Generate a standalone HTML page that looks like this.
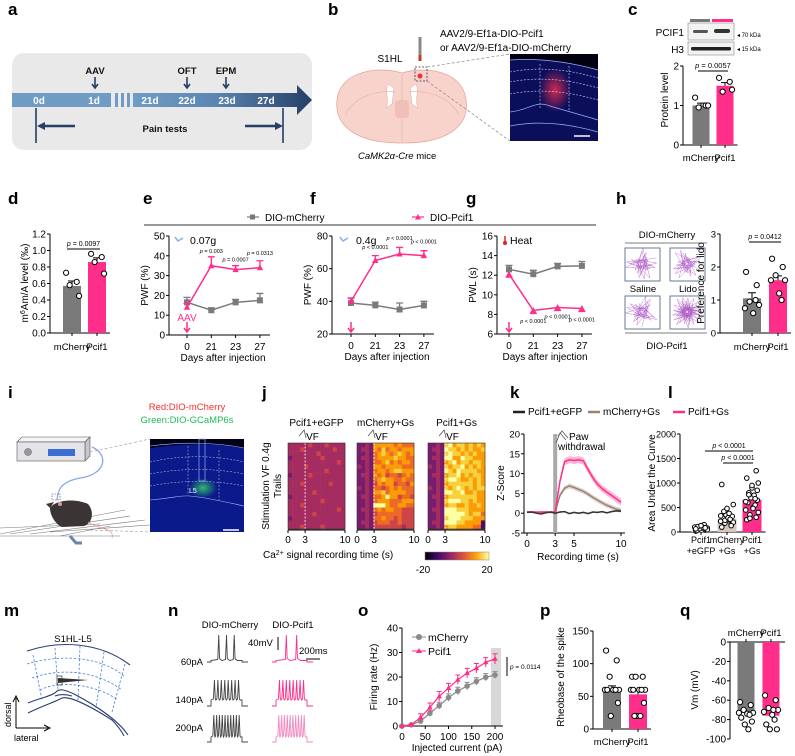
<!DOCTYPE html>
<html><head><meta charset="utf-8"><style>
html,body{margin:0;padding:0;background:#fff}
svg{display:block;font-family:"Liberation Sans",Arial,sans-serif}
</style></head><body>
<svg id="fig" width="795" height="756" viewBox="0 0 795 756" xmlns="http://www.w3.org/2000/svg">
<defs>
<linearGradient id="tl" x1="0" x2="1" y1="0" y2="0"><stop offset="0" stop-color="#6f9cc4"/><stop offset="0.45" stop-color="#5d87b3"/><stop offset="1" stop-color="#253f66"/></linearGradient>
<linearGradient id="infg" x1="0" x2="1"><stop offset="0" stop-color="#000004"/><stop offset="0.2" stop-color="#420a68"/><stop offset="0.4" stop-color="#932667"/><stop offset="0.6" stop-color="#dd513a"/><stop offset="0.8" stop-color="#fca50a"/><stop offset="1" stop-color="#fcffa4"/></linearGradient>
<radialGradient id="redglow"><stop offset="0" stop-color="#ff3050" stop-opacity="0.8"/><stop offset="1" stop-color="#ff3050" stop-opacity="0"/></radialGradient>
<radialGradient id="greenglow"><stop offset="0" stop-color="#40ff60" stop-opacity="0.7"/><stop offset="1" stop-color="#40ff60" stop-opacity="0"/></radialGradient>
</defs>

<g font-weight="bold" font-size="17" fill="#000">
<text x="8" y="15">a</text>
<text x="328" y="15">b</text>
<text x="628" y="15">c</text>
<text x="8" y="204">d</text>
<text x="143" y="204">e</text>
<text x="310" y="204">f</text>
<text x="466" y="204">g</text>
<text x="616" y="204">h</text>
<text x="8" y="398">i</text>
<text x="262" y="398">j</text>
<text x="510" y="398">k</text>
<text x="668" y="398">l</text>
<text x="4" y="616">m</text>
<text x="168" y="616">n</text>
<text x="358" y="616">o</text>
<text x="540" y="616">p</text>
<text x="680" y="616">q</text>
</g>

<g>
<rect x="12" y="53" width="300" height="97" rx="12" fill="#e9e9ea"/>
<rect x="12" y="93" width="99" height="14" fill="#6f9cc4"/>
<rect x="115" y="93" width="3" height="14" fill="#6f9cc4"/>
<rect x="121" y="93" width="3" height="14" fill="#6f9cc4"/>
<rect x="127" y="93" width="3" height="14" fill="#6f9cc4"/>
<path d="M133,93 H297 V85 L312,100 L297,115 V107 H133 Z" fill="url(#tl)"/>
<g fill="#fff" font-weight="bold" font-size="10" text-anchor="middle">
<text x="39" y="104">0d</text>
<text x="94" y="104">1d</text>
<text x="150" y="104">21d</text>
<text x="187" y="104">22d</text>
<text x="227" y="104">23d</text>
<text x="266" y="104">27d</text>
</g>
<g font-weight="bold" font-size="9.5" text-anchor="middle" fill="#111">
<text x="95" y="74">AAV</text>
<text x="187" y="74">OFT</text>
<text x="226" y="74">EPM</text>
<text x="165" y="132">Pain tests</text>
</g>
<g stroke="#253f66" stroke-width="1.6" fill="none">
<path d="M95,77 V88 M92,84 L95,88 L98,84"/><path d="M187,77 V88 M184,84 L187,88 L190,84"/><path d="M226,77 V88 M223,84 L226,88 L229,84"/>
<path d="M36,108 V143"/><path d="M283,108 V143"/>
</g>
<path d="M75,126 H44" stroke="#253f66" stroke-width="2.5"/><path d="M37,126 L45,122 L45,130 Z" fill="#253f66"/>
<path d="M245,126 H276" stroke="#253f66" stroke-width="2.5"/><path d="M283,126 L275,122 L275,130 Z" fill="#253f66"/>
</g>

<g>
<path d="M402,73 C380,66 340,70 337,100 C334,128 360,143 400,143 L404,143 C444,143 470,128 466,100 C463,70 424,66 402,73 Z" fill="#f7d3cc" stroke="#e3aaa2" stroke-width="0.8"/>
<path d="M388,84 C384,92 390,98 386,108 L392,104 L394,88 Z M416,84 C420,92 414,98 418,108 L412,104 L410,88 Z" fill="#fff" stroke="#e3aaa2" stroke-width="0.5"/>
<path d="M345,115 C355,95 380,90 395,92 M459,115 C449,95 424,90 409,92 M402,74 V143" fill="none" stroke="#e8b8b0" stroke-width="0.7"/>
<rect x="395" y="100" width="14" height="18" rx="4" fill="#f0c0b8"/>
<rect x="418.5" y="37" width="3" height="20" fill="#888"/>
<rect x="418.5" y="55" width="3" height="6" fill="#c0392b"/>
<rect x="415" y="67" width="12" height="14" fill="none" stroke="#334" stroke-dasharray="2,1.5" stroke-width="0.8"/>
<circle cx="420" cy="76" r="2.5" fill="#e33"/>
<path d="M427,67 L510,54 M427,81 L510,141" stroke="#888" stroke-dasharray="3,2" stroke-width="0.7"/>
<text x="390" y="62" font-size="10" text-anchor="middle">S1HL</text>
<text x="440" y="37" font-size="10">AAV2/9-Ef1a-DIO-Pcif1</text>
<text x="440" y="51" font-size="10">or AAV2/9-Ef1a-DIO-mCherry</text>
<text x="358" y="159" font-size="9.5"><tspan font-style="italic">CaMK2α-Cre</tspan> mice</text>
<g>
<rect x="510" y="54" width="88" height="87" fill="#0b0f5a"/>
<path d="M510,54 L598,54 L598,70 C570,62 540,58 510,60 Z" fill="#000010"/>
<ellipse cx="555" cy="90" rx="16" ry="22" fill="url(#redglow)"/>
<g fill="none" stroke="#d0d0ff" stroke-width="0.6" stroke-dasharray="2,1.5">
<path d="M510,72 C540,66 570,70 598,78"/><path d="M510,82 C540,76 570,80 598,88"/><path d="M510,94 C540,88 570,92 598,100"/><path d="M540,64 V108"/><path d="M569,66 V110"/>
</g>
<path d="M510,112 C530,110 535,100 550,106 C570,112 585,116 598,120 M510,126 C540,120 570,124 598,132 M510,60 C540,58 570,62 598,70" fill="none" stroke="#9ab0ff" stroke-width="0.7"/>
<path d="M574,136 H590" stroke="#fff" stroke-width="1.5"/>
</g>
</g>

<g>
<rect x="690" y="19" width="20" height="3" fill="#777"/>
<rect x="712" y="19" width="21" height="3" fill="#ff2e8a"/>
<rect x="688" y="23" width="46" height="17" fill="#f3f3f3" stroke="#888" stroke-width="0.6"/>
<rect x="693" y="30" width="15" height="3" rx="1.5" fill="#555"/><rect x="714" y="29" width="16" height="4" rx="2" fill="#333"/>
<rect x="688" y="42" width="46" height="13" fill="#f3f3f3" stroke="#888" stroke-width="0.6"/>
<rect x="691" y="47" width="40" height="3.5" rx="1.5" fill="#222"/>
<text x="684" y="36" font-size="10" text-anchor="end">PCIF1</text>
<text x="684" y="53" font-size="10" text-anchor="end">H3</text>
<text x="737" y="37" font-size="6">◂  70 kDa</text>
<text x="737" y="51" font-size="6">◂  15 kDa</text>
</g>

<g>
<path d="M144,225 H596" stroke="#999" stroke-width="2"/>
<path d="M247,217 H259" stroke="#777" stroke-width="1.2"/><rect x="250" y="214.5" width="5" height="5" fill="#777"/>
<text x="265" y="221" font-size="10">DIO-mCherry</text>
<path d="M412,217 H424" stroke="#ff2e8a" stroke-width="1.2"/><path d="M418,214 L421,219.5 L415,219.5 Z" fill="#ff2e8a"/>
<text x="430" y="221" font-size="10">DIO-Pcif1</text>
</g>

<g>
<text x="667" y="238" font-size="9.5" text-anchor="middle">DIO-mCherry</text>
<path d="M625,243 H707 M625,333 H707" stroke="#555" stroke-width="0.8"/>
<text x="643" y="292" font-size="9.5" text-anchor="middle">Saline</text>
<text x="688" y="292" font-size="9.5" text-anchor="middle">Lido</text>
<text x="667" y="349" font-size="9.5" text-anchor="middle">DIO-Pcif1</text>
<g id="mazes"></g>
</g>

<g>
<text x="187" y="410" font-size="9.5" fill="#ff2a2a" text-anchor="middle">Red:DIO-mCherry</text>
<text x="187" y="423" font-size="9.5" fill="#22bb55" text-anchor="middle">Green:DIO-GCaMP6s</text>
<path d="M17,442 L22,437 L90,437 L85,442 Z" fill="#f4f4f6" stroke="#555" stroke-width="0.6"/>
<path d="M85,442 L90,437 V456 L85,461 Z" fill="#c8c8cc" stroke="#555" stroke-width="0.6"/>
<rect x="17" y="442" width="68" height="19" fill="#e4e4e8" stroke="#555" stroke-width="0.6"/>
<rect x="48" y="449" width="27" height="7" fill="#3b6fcf"/>
<circle cx="28" cy="452" r="3.5" fill="#999" stroke="#555" stroke-width="0.5"/>
<path d="M92,447 C110,455 105,475 80,478 C60,482 58,490 57,500" fill="none" stroke="#89a8e8" stroke-width="1.3"/>
<g stroke="#777" stroke-width="0.6"><path d="M0,534 L125,510 M10,534 L130,516 M30,534 L145,520 M50,532 L150,525 M0,528 L100,524 M60,536 L110,526 M0,536 L120,536"/></g>
<path d="M50,508 C55,500 75,498 88,504 C95,512 92,524 84,526 L62,527 C55,524 50,515 50,508 Z" fill="#3a3434"/>
<path d="M50,508 L46,504 L54,502 Z" fill="#3a3434"/><circle cx="60" cy="504" r="2" fill="#d99"/>
<path d="M88,522 C100,530 115,528 112,538" fill="none" stroke="#e99" stroke-width="0.8"/>
<rect x="52" y="494" width="8" height="6" fill="none" stroke="#446" stroke-dasharray="1.5,1" stroke-width="0.6"/>
<path d="M70,536 L76,543 L82,543" stroke="#6688aa" stroke-width="3" fill="none"/>
<path d="M90,452 L150,439 M90,530 L150,532" stroke="#999" stroke-dasharray="3,2" stroke-width="0.6"/>
<g>
<rect x="150" y="439" width="94" height="93" fill="#0a1a8a"/>
<path d="M150,439 H244 V448 C210,442 180,444 150,448 Z" fill="#000018"/>
<ellipse cx="203" cy="488" rx="14" ry="10" fill="url(#greenglow)"/>
<g fill="none" stroke="#ccd" stroke-width="0.5" stroke-dasharray="2,1.5"><path d="M150,462 C180,455 215,455 244,462"/><path d="M150,474 C180,468 215,468 244,474"/><path d="M150,486 C180,480 215,480 244,486"/><path d="M188,446 V495"/><path d="M219,450 V500"/></g>
<path d="M150,500 C175,498 180,495 190,496 C210,498 230,503 244,506 M150,446 C180,442 215,442 244,448" fill="none" stroke="#b0b8ff" stroke-width="0.6"/>
<rect x="199" y="439" width="6" height="42" fill="none" stroke="#8ab0ff" stroke-width="0.7"/>
<text x="189" y="493" font-size="7" fill="#fff">L5</text>
<path d="M223,530 H239" stroke="#fff" stroke-width="1.5"/>
</g>
</g>

<g>
<text x="73" y="642" font-size="9.5" text-anchor="middle">S1HL-L5</text>
<g fill="none" stroke="#2d3e70" stroke-width="1.1">
<path d="M27,651 C60,640 100,642 130,665"/>
<path d="M28,703 C40,698 52,696 56,692 C60,688 65,690 74,694 C95,705 118,720 128,735"/>
<path d="M28,713 C42,706 55,702 62,698 C70,696 90,706 112,720 C118,726 122,732 124,736"/>
<path d="M55,696 C60,694 65,694 72,696"/>
</g>
<g fill="none" stroke="#4a7fd6" stroke-width="0.8" stroke-dasharray="2.5,1.8">
<path d="M27,664 C60,654 100,656 124,676"/><path d="M32,678 C60,668 95,670 122,690"/><path d="M40,690 C60,680 95,684 118,700"/>
<path d="M33,655 L42,700"/><path d="M55,648 L58,690"/><path d="M80,646 L78,700"/><path d="M104,652 L96,708"/><path d="M125,664 L112,712"/>
</g>
<path d="M58,678 L88,680 L58,683 Z" fill="#333"/><rect x="57" y="676" width="5" height="9" fill="none" stroke="#333" stroke-width="0.7"/>
<path d="M16,728 V698 M13,702 L16,696 L19,702 M16,728 H48 M44,725 L50,728 L44,731" fill="none" stroke="#000" stroke-width="1"/>
<text transform="translate(11,727) rotate(-90)" font-size="9">dorsal</text>
<text x="14" y="741" font-size="9">lateral</text>
</g>

<g font-size="9.5">
<text x="230" y="628" text-anchor="middle">DIO-mCherry</text>
<text x="293" y="628" text-anchor="middle">DIO-Pcif1</text>
<text x="203" y="665" text-anchor="end">60pA</text>
<text x="203" y="703" text-anchor="end">140pA</text>
<text x="203" y="731" text-anchor="end">200pA</text>
<text x="248" y="646">40mV</text>
<path d="M278,637 V650" stroke="#000" stroke-width="1"/>
<text x="299" y="654">200ms</text>
<path d="M306,659 H320" stroke="#000" stroke-width="1"/>
<g id="traces"></g>
</g>

<g id="charts"></g>
</svg>
<script>
// ---------- data ----------
const cCats=['mCherry','Pcif1'];
const cVals=[1.0,1.5];
const cErr=[0.06,0.08];
const cPts=[[1.2,1.0,0.95,1.0],[1.7,1.6,1.35,1.4]];
const dVals=[0.57,0.86];
const dErr=[0.06,0.05];
const dPts=[[0.73,0.62,0.58,0.45],[0.96,0.92,0.86,0.72]];
const hVals=[1.05,1.6];
const hErr=[0.17,0.13];
const hPts=[[1.85,1.45,0.95,0.85,0.75,0.6,1.0],[2.25,2.0,1.75,1.6,1.6,1.2,1.0]];
const days=['0','21','23','27'];
const eMch=[16.5,12.5,16.5,17.5], eMchErr=[2.5,1.2,1.5,3.5];
const ePc=[14,35,33,34], ePcErr=[2,4.5,2,3.5];
const fMch=[39,37.5,35,37.5], fMchErr=[3,2,4,2.5];
const fPc=[40,65,69,68], fPcErr=[2,3,4,3];
const gMch=[12.6,12.1,12.9,12.95], gMchErr=[0.4,0.4,0.3,0.45];
const gPc=[12.1,8.4,8.7,8.6], gPcErr=[0.3,0.3,0.3,0.3];
const heat1=["44444544454444","44454444444544","44444445444444","34444444544444","44444444444454","44445444444444","44444444454444","34444544444444","44444444444444","44454444445444","44444444444444","44444454444444","34444444444444","44444444544444","44454444444444","44444444444454","44444454444444","34444444444444","44444444444444","44454444544444"];
const heat2=["33437777767666","34437686776777","33436787678767","34436777787766","33436678676776","43437767777666","33436776788777","34437675665676","33436787766766","33435767756657","43436656767666","33437786777766","34436679775665","33436777666777","33439997667766","34436767766555","33435666666555","33436676656555","34435666556555","33435555555455"];
const heat3=["33438978878787","34439887878778","33438988787877","34439977988777","33437897887887","43438788978787","33439879888877","34437889787887","33438998778787","33437888888787","43438789878788","33439988977877","34437888888877","33438999887877","33437887787787","34439998887777","33439999987886","33438999888777","34439998877772","33437887777662"];
const kTime=[0,0.5,1,1.5,2,2.5,3,3.5,4,4.5,5,5.5,6,6.5,7,7.5,8,8.5,9,9.5,10];
const kPc=[0.3,0.3,0.2,0.3,0.3,0.2,0.3,8,13,13.5,13.3,13.5,13.2,11,9,7.3,6.2,5.3,4.5,3.6,2.8];
const kMch=[0.3,0.3,0.3,0.2,0.3,0.3,0.3,4.5,6.3,6.9,6.5,6,5.5,4.8,4,3.3,2.6,2,1.5,1,0.7];
const kGfp=[0.2,0.3,0,-0.2,0.1,0.3,0,0.3,0.4,-0.1,0.2,0,0.2,-0.1,0.3,0.2,0.4,0.1,0.4,0.6,0.5];
const lCats=['Pcif1\n+eGFP','mCherry\n+Gs','Pcif1\n+Gs'];
const lVals=[60,270,660];
const lErr=[10,40,60];
const lPts=[[20,40,60,80,100,120,150,30,50,70,90,110,130,45,65,85],[100,150,180,200,220,250,270,300,320,350,380,420,480,560,970,130,240,290,330,260],[250,300,350,400,450,500,550,600,650,700,750,800,900,1000,1100,1250,280,480,620,680,760,850,950]];
const oCur=[0,20,40,60,80,100,120,140,160,180,200];
const oMch=[0,0.5,2,5.2,8.3,11.6,14.3,16.3,18.2,19.9,20.8];
const oPc=[0,0.5,3.5,7.6,12.1,15.5,18.9,21.6,23.6,26,27.4];
const oMchErr=[0,0.3,1,1.2,1.4,1.5,1.5,1.5,1.5,1.5,1.4];
const oPcErr=[0,0.3,1.5,1.8,2,1.9,1.9,1.9,1.9,1.9,2.1];
const pVals=[60,53];
const pErr=[6,6];
const pPts=[[120,105,80,60,60,60,60,60,40,20],[80,80,80,60,60,60,60,60,40,20,20,20]];
const qVals=[-73,-76];
const qPts=[[-62,-65,-70,-73,-73,-74,-75,-78,-82,-85,-90],[-55,-60,-68,-70,-72,-75,-80,-85,-90,-90,-70]];

// ---------- helpers ----------
const NS='http://www.w3.org/2000/svg';
const root=document.getElementById('charts');
function E(tag,attrs,parent){const e=document.createElementNS(NS,tag);for(const k in attrs)e.setAttribute(k,attrs[k]);(parent||root).appendChild(e);return e;}
function N(e,name,inter){


return e;}
function T(x,y,s,size,anchor,parent,extra){const t=E('text',Object.assign({x:x,y:y,'font-size':size,'text-anchor':anchor||'start'},extra||{}),parent);t.textContent=s;return t;}
function lin(d0,d1,r0,r1){return v=>r0+(v-d0)*(r1-r0)/(d1-d0);}
const PINK='#ff2e8a',GREY='#7a7a7a';
const jit=[-5,4,-2,6,-6,1,3,-4,5,-1,2,-3,0,6,-5,4,-2,1,-6,3,-3,5,0];

function yAxis(g,x,sc,ticks,size,name){
  const a=E('g',{},g);
  N(a,name,false);
  E('path',{d:`M${x},${sc(ticks[0])} V${sc(ticks[ticks.length-1])}`,stroke:'#000','stroke-width':1},a);
  ticks.forEach(t=>{E('path',{d:`M${x-3},${sc(t)} H${x}`,stroke:'#000','stroke-width':1},a);
    T(x-4,sc(t)+3.5,String(t),size,'end',a);});
  return a;
}
function rotTitle(g,x,y,s,size,name){const t=T(0,0,s,size,'middle',g,{transform:`translate(${x},${y}) rotate(-90)`});
N(t,name,false);return t;}
function dots(g,cx,sc,pts,r){pts.forEach((v,i)=>{const c=E('circle',{cx:cx+jit[i%jit.length]*r/2.2,cy:sc(v),r:r,fill:'#fff',stroke:'#000','stroke-width':1},g);
N(c,'data-point',false);});}
function barChart(o){
  const g=E('g',{});N(g,o.name,false);
  yAxis(g,o.ax,o.sc,o.ticks,o.fs||10,o.name+'-y-axis');
  const y0=o.sc(0);
  E('path',{d:`M${o.ax},${y0} H${o.centers[o.centers.length-1]+o.w/2+4}`,stroke:'#000','stroke-width':1},g);
  o.vals.forEach((v,i)=>{const cx=o.centers[i];
    const b=E('rect',{x:cx-o.w/2,y:Math.min(o.sc(v),y0),width:o.w,height:Math.abs(y0-o.sc(v)),fill:o.colors[i]},g);
    N(b,'bar-'+o.cats[i].replace(/\W+/g,'-').toLowerCase(),false);
    if(o.err){const e=o.err[i];E('path',{d:`M${cx},${o.sc(v)} V${o.sc(v+e)} M${cx-4},${o.sc(v+e)} H${cx+4}`,stroke:'#000','stroke-width':1},g);}
    E('path',{d:`M${cx},${y0} V${y0+3}`,stroke:'#000'},g);
    const lines=o.cats[i].split('\n');lines.forEach((s,j)=>{const t=T(cx,o.labY+j*11,s,o.lfs||9.5,'middle',g);
    N(t,'x-label',false);});
    dots(g,cx,o.sc,o.pts[i],o.r||2.6);
  });
  return g;
}
function pAnn(g,x1,x2,y,txt,fs){E('path',{d:`M${x1},${y} H${x2}`,stroke:'#000','stroke-width':1},g);
  const t=T((x1+x2)/2,y-3,'',fs||7,'middle',g);const a=E('tspan',{'font-style':'italic'},t);a.textContent='p';const b=E('tspan',{},t);b.textContent=txt;
  N(t,'p-value',false);}

// ---------- c ----------
{const sc=lin(0,2,145,66);
const g=barChart({name:'protein-level-chart',ax:683,sc:sc,ticks:[0,1,2],centers:[701,725],w:17,vals:cVals,err:cErr,pts:cPts,colors:[GREY,PINK],cats:cCats,labY:161,fs:10});
pAnn(g,698,728,71,' = 0.0057',7.5);rotTitle(g,668,100,'Protein level',10,'protein-level-title');}
// ---------- d ----------
{const sc=lin(0,1.2,333,234);
const g=barChart({name:'m6am-chart',ax:50,sc:sc,ticks:[0,0.2,0.4,0.6,0.8,1.0,1.2],centers:[72,97],w:18,vals:dVals,err:dErr,pts:dPts,colors:[GREY,PINK],cats:cCats,labY:350});
g.querySelectorAll('text[text-anchor="end"]').forEach(t=>{t.textContent=Number(t.textContent).toFixed(1);});
pAnn(g,67,100,249,' = 0.0097',7);
const t=T(0,0,'',10,'middle',g,{transform:'translate(28,283) rotate(-90)'});t.innerHTML='m<tspan baseline-shift="super" font-size="7">6</tspan>Am/A level (‰)';
N(t,'m6am-y-title',false);}
// ---------- h ----------
{const sc=lin(0,3,333,234);
const g=barChart({name:'preference-chart',ax:720,sc:sc,ticks:[0,1,2,3],centers:[752,778],w:18,vals:hVals,err:hErr,pts:hPts,colors:[GREY,PINK],cats:cCats,labY:350,fs:9.5});
pAnn(g,749,781,242,' = 0.0412',7);rotTitle(g,704,283,'Preference for lido',10,'preference-y-title');
const mz=document.getElementById('mazes');
[[625,248],[670,248],[625,296],[670,296]].forEach((p,i)=>{const r=E('rect',{x:p[0],y:p[1],width:35,height:33,fill:'#fff',stroke:'#6a7a9a','stroke-width':1},mz);
N(r,'maze-box',false);
let d='M'+(p[0]+17)+','+(p[1]+16);for(let k=0;k<(i==3?70:35);k++){const a=(k*2.39+i)%6.283, rr=((k*37)%15)+2;d+=' L'+(p[0]+17+Math.cos(a)*rr*1.05).toFixed(1)+','+(p[1]+16+Math.sin(a)*rr).toFixed(1);}
E('path',{d:d,fill:'none',stroke:'#b060c8','stroke-width':0.5,opacity:0.8},mz);});}

// ---------- e f g ----------
function lineChart(o){
  const g=E('g',{});N(g,o.name,false);
  yAxis(g,o.ax,o.sc,o.ticks,10,o.name+'-y-axis');
  const xp=i=>o.x0+i*o.step;
  const yb=o.sc(o.ticks[0]);
  E('path',{d:`M${o.ax},${yb} H${xp(3)+10}`,stroke:'#000'},g);
  days.forEach((d,i)=>{E('path',{d:`M${xp(i)},${yb} V${yb+3}`,stroke:'#000'},g);const t=T(xp(i),yb+15,d,10,'middle',g);
  N(t,'x-tick-label',false);});
  const tt=T(o.x0+36,yb+26,'Days after injection',10,'middle',g);
  N(tt,'x-axis-title',false);
  [[o.mch,o.mchE,GREY,'mcherry'],[o.pc,o.pcE,PINK,'pcif1']].forEach(s=>{
    const sg=E('g',{},g);
    N(sg,'series-'+s[3],false);
    E('path',{d:s[0].map((v,i)=>(i?'L':'M')+xp(i)+','+o.sc(v)).join(' '),fill:'none',stroke:s[2],'stroke-width':1.5},sg);
    s[0].forEach((v,i)=>{const e=s[1][i];const dir=(s[3]=='pcif1'&&o.down)?-1:1;
      E('path',{d:`M${xp(i)},${o.sc(v)} V${o.sc(v+dir*e)} M${xp(i)-3.5},${o.sc(v+dir*e)} H${xp(i)+3.5}`,stroke:s[2],'stroke-width':1.3},sg);
      const m=s[3]=='mcherry'?E('rect',{x:xp(i)-3,y:o.sc(v)-3,width:6,height:6,fill:s[2]},sg):E('path',{d:`M${xp(i)},${o.sc(v)-3.5} L${xp(i)+3.2},${o.sc(v)+2.5} L${xp(i)-3.2},${o.sc(v)+2.5} Z`,fill:s[2]},sg);
      N(m,'point-'+s[3]+'-day'+days[i],false);});
  });
  E('path',{d:`M${xp(0)},${o.arrY} V${o.arrY+10} M${xp(0)-3},${o.arrY+6} L${xp(0)},${o.arrY+10} L${xp(0)+3},${o.arrY+6}`,stroke:PINK,'stroke-width':1.5,fill:'none'},g);
  o.plabels.forEach(p=>{const t=T(xp(p[0]),o.sc(p[1]),'',5.5,'middle',g);const a=E('tspan',{'font-style':'italic'},t);a.textContent='p';const b=E('tspan',{},t);b.textContent=p[2];
  N(t,'p-value',false);});
  rotTitle(g,o.ax-21,(o.sc(o.ticks[0])+o.sc(o.ticks[o.ticks.length-1]))/2,o.ytitle,10,o.name+'-y-title');
  return g;
}
{const g=lineChart({name:'pwf-007g-chart',ax:169,sc:lin(0,50,335,236),ticks:[0,10,20,30,40,50],x0:187,step:24.3,mch:eMch,mchE:eMchErr,pc:ePc,pcE:ePcErr,arrY:322,ytitle:'PWF (%)',
 plabels:[[1,41.5,' = 0.003'],[2,37,' = 0.0007'],[3,40.5,' = 0.0313']]});
 T(190,244,'0.07g',10.5,'start',g);T(187,321,'AAV',10,'middle',g,{fill:PINK});
 E('path',{d:'M175,237 L178,241 L183,238',stroke:'#8ab0e8','stroke-width':1.5,fill:'none'},g);}
{const g=lineChart({name:'pwf-04g-chart',ax:332,sc:lin(20,80,334,236),ticks:[20,40,60,80],x0:351,step:24.3,mch:fMch,mchE:fMchErr,pc:fPc,pcE:fPcErr,arrY:322,ytitle:'PWF (%)',
 plabels:[[1,72,' < 0.0001'],[2,77.5,' < 0.0001'],[3,75.5,' < 0.0001']]});
 T(356,244,'0.4g',10.5,'start',g);
 E('path',{d:'M340,237 L343,241 L348,238',stroke:'#8ab0e8','stroke-width':1.5,fill:'none'},g);}
{const g=lineChart({name:'pwl-heat-chart',ax:497,sc:lin(6,16,334,236),ticks:[6,8,10,12,14,16],x0:509,step:24.3,mch:gMch,mchE:gMchErr,pc:gPc,pcE:gPcErr,arrY:322,down:true,ytitle:'PWL (s)',
 plabels:[[1,7.1,' < 0.0001'],[2,7.6,' < 0.0001'],[3,7.3,' < 0.0001']]});
 T(510,244,'Heat',10.5,'start',g);E('circle',{cx:505,cy:243,r:2,fill:'#d22'},g);E('path',{d:'M505,236 V242',stroke:'#d22','stroke-width':1.5},g);}

// ---------- j heatmaps ----------
const INF=['#000004','#1b0c41','#4a0c6b','#781c6d','#a52c60','#cf4446','#ed6925','#fb9b06','#f7d13d','#fcffa4'];
function heatmap(data,x0,title,name){
  const g=E('g',{});N(g,name,false);
  const W=57,H=86,y0=443,rows=data.length,cols=data[0].length;
  data.forEach((row,r)=>{for(let c=0;c<cols;c++){const cell=E('rect',{x:x0+c*W/cols,y:y0+r*H/rows,width:W/cols+0.3,height:H/rows+0.3,fill:INF[+row[c]]},g);
    N(cell,'heatmap-cell',false);}});
  const xs=lin(0,10,x0,x0+W);
  E('path',{d:`M${xs(3)},${y0} V${y0+H}`,stroke:'#fff','stroke-width':0.8,'stroke-dasharray':'2,1.5'},g);
  E('rect',{x:x0,y:y0,width:W,height:H,fill:'none',stroke:'#333','stroke-width':0.6},g);
  E('path',{d:`M${x0},${y0+H+1} H${x0+W}`,stroke:'#000'},g);
  [0,3,10].forEach(t=>{E('path',{d:`M${xs(t)},${y0+H+1} V${y0+H+4}`,stroke:'#000'},g);T(xs(t),y0+H+14,String(t),10,'middle',g);});
  const tt=T(x0+W/2,426,title,10,'middle',g);
  N(tt,'heatmap-title',false);
  T(xs(3)+1,440,'VF',10,'start',g);E('path',{d:`M${xs(3)-6},436 L${xs(3)-1},430 L${xs(3)+1},438`,stroke:'#555','stroke-width':0.8,fill:'none'},g);
}
heatmap(heat1,288,'Pcif1+eGFP','heatmap-pcif1-egfp');
heatmap(heat2,357,'mCherry+Gs','heatmap-mcherry-gs');
heatmap(heat3,428,'Pcif1+Gs','heatmap-pcif1-gs');
{const g=E('g',{});N(g,'heatmap-axes-text',false);
 rotTitle(g,269,486,'Stimulation  VF 0.4g',10,'heatmap-y-title');rotTitle(g,281,486,'Trails',10,'heatmap-y-title-2');
 const t=T(263,558,'',10,'start',g);t.innerHTML='Ca<tspan baseline-shift="super" font-size="7">2+</tspan> signal recording time (s)';
 const cb=E('rect',{x:425,y:552,width:64,height:8,fill:'url(#infg)',stroke:'#888','stroke-width':0.5},g);
 N(cb,'colorbar',false);
 T(423,573,'-20',10,'middle',g);T(487,573,'20',10,'middle',g);}

// ---------- k ----------
{const g=E('g',{});N(g,'zscore-chart',false);
 const ys=lin(-5,20,533,434), xs=lin(0,10,527,621);
 yAxis(g,524,ys,[-5,0,5,10,15,20],9.5,'zscore-y-axis');
 E('path',{d:`M524,533 H625`,stroke:'#000'},g);
 [0,3,5,10].forEach(t=>{E('path',{d:`M${xs(t)},533 V536`,stroke:'#000'},g);T(xs(t),547,String(t),10,'middle',g);});
 E('rect',{x:xs(3)-2,y:434,width:4,height:99,fill:'#aaa'},g);
 const band=(arr,w,col,name)=>{const up=arr.map((v,i)=>xs(kTime[i])+','+ys(v+w*(i>6?1:0.3)));const dn=arr.map((v,i)=>xs(kTime[i])+','+ys(v-w*(i>6?1:0.3))).reverse();
   E('path',{d:'M'+up.join(' L')+' L'+dn.join(' L')+'Z',fill:col,opacity:0.35},g);
   const l=E('path',{d:'M'+arr.map((v,i)=>xs(kTime[i])+','+ys(v)).join(' L'),fill:'none',stroke:col,'stroke-width':1.5},g);
   N(l,name,false);};
 band(kMch,0.6,'#9c8074','line-mcherry-gs');band(kPc,0.9,PINK,'line-pcif1-gs');band(kGfp,0.2,'#333','line-pcif1-egfp');
 rotTitle(g,504,483,'Z-Score',10,'zscore-y-title');
 const xt=T(578,560,'Recording time (s)',10,'middle',g);N(xt,'zscore-x-title',false);
 T(569,440,'Paw',10,'start',g);T(558,450,'withdrawal',10,'start',g);
 E('path',{d:'M556,443 L560,433 L566,440 M558,436 L562,431 L568,438',stroke:'#555','stroke-width':0.8,fill:'none'},g);
 const lg=[[513,'#222','Pcif1+eGFP'],[588,'#9c8074','mCherry+Gs'],[673,PINK,'Pcif1+Gs']];
 lg.forEach(l=>{E('path',{d:`M${l[0]},412 H${l[0]+12}`,stroke:l[1],'stroke-width':2.5},g);const t=T(l[0]+15,415,l[2],10,'start',g);
 N(t,'legend-entry',false);});}

// ---------- l ----------
{const sc=lin(0,2000,532,434);
 const g=barChart({name:'auc-chart',ax:680,sc:sc,ticks:[0,500,1000,1500,2000],centers:[701,727,752],w:19,vals:lVals,err:lErr,pts:lPts,colors:['#e4e4e4','#d8c6bd',PINK],cats:lCats,labY:543,r:2.3,fs:9,lfs:9});
 pAnn(g,705,753,451,' < 0.0001',7);pAnn(g,723,753,463,' < 0.0001',7);
 rotTitle(g,655,483,'Area Under the Curve',10,'auc-y-title');}

// ---------- n traces ----------
{const tg=document.getElementById('traces');
 function trace(x0,yb,w,plat,nsp,top,col,name){let d=`M${x0},${yb} H${x0+4} V${yb-plat}`;const s=(w-10)/(nsp+1);
  for(let k=1;k<=nsp;k++){const x=x0+4+k*s;d+=` L${x-1},${yb-plat-1} L${x},${top} L${x+0.8},${yb-plat-2} L${x+s*0.4},${yb-plat}`;}
  d+=` L${x0+w-6},${yb-plat} V${yb} H${x0+w}`;const p=E('path',{d:d,fill:'none',stroke:col,'stroke-width':0.9},tg);
  N(p,name,false);}
 trace(207,662,41,1.5,3,635,'#444','trace-mcherry-60pa');trace(272,662,41,1.5,2,635,PINK,'trace-pcif1-60pa');
 trace(207,706,41,6,8,680,'#444','trace-mcherry-140pa');trace(272,706,41,6,8,680,PINK,'trace-pcif1-140pa');
 trace(207,742,41,5,10,715,'#444','trace-mcherry-200pa');trace(272,742,41,5,10,715,'#f08ac0','trace-pcif1-200pa');}

// ---------- o ----------
{const g=E('g',{});N(g,'firing-rate-chart',false);
 const ys=lin(0,40,726,628), xs=lin(0,200,402,495);
 E('rect',{x:491,y:648,width:10,height:78,fill:'#d8d8d8'},g);
 yAxis(g,402,ys,[0,10,20,30,40],10,'firing-y-axis');
 E('path',{d:'M402,726 H503',stroke:'#000'},g);
 [0,50,100,150,200].forEach(t=>{E('path',{d:`M${xs(t)},726 V729`,stroke:'#000'},g);T(xs(t),740,String(t),10,'middle',g);});
 [[oMch,oMchErr,'#8a8a8a','mcherry'],[oPc,oPcErr,PINK,'pcif1']].forEach(s=>{const sg=E('g',{},g);
  N(sg,'series-'+s[3],false);
  E('path',{d:'M'+s[0].map((v,i)=>xs(oCur[i])+','+ys(v)).join(' L'),fill:'none',stroke:s[2],'stroke-width':1.2},sg);
  s[0].forEach((v,i)=>{const x=xs(oCur[i]);E('path',{d:`M${x},${ys(v-s[1][i])} V${ys(v+s[1][i])} M${x-2.5},${ys(v+s[1][i])} H${x+2.5}`,stroke:s[2],'stroke-width':1},sg);
   const m=s[3]=='mcherry'?E('circle',{cx:x,cy:ys(v),r:2.8,fill:s[2]},sg):E('path',{d:`M${x},${ys(v)-3} L${x+2.7},${ys(v)+2} L${x-2.7},${ys(v)+2}Z`,fill:s[2]},sg);
   N(m,'point-'+s[3],false);});});
 E('circle',{cx:419,cy:637,r:3,fill:'#8a8a8a'},g);E('path',{d:'M412,637 H426',stroke:'#8a8a8a'},g);
 const l1=T(428,641,'mCherry',10.5,'start',g);N(l1,'legend-mcherry',false);
 E('path',{d:'M412,651 H426',stroke:PINK},g);E('path',{d:'M419,648 L422,653 L416,653Z',fill:PINK},g);
 const l2=T(428,655,'Pcif1',10.5,'start',g);N(l2,'legend-pcif1',false);
 E('path',{d:'M507,657 V676',stroke:'#000'},g);
 const pt=T(510,669,'',6.5,'start',g);pt.innerHTML='<tspan font-style="italic">p</tspan> = 0.0114';N(pt,'p-value',false);
 rotTitle(g,377,677,'Firing rate (Hz)',10,'firing-y-title');
 const xt=T(457,751,'Injected current (pA)',10,'middle',g);N(xt,'firing-x-title',false);}

// ---------- p ----------
{const sc=lin(0,150,729,631);
 const g=barChart({name:'rheobase-chart',ax:593,sc:sc,ticks:[0,50,100,150],centers:[612,638],w:18,vals:pVals,err:pErr,pts:pPts,colors:[GREY,PINK],cats:cCats,labY:745});
 rotTitle(g,564,677,'Rheobase of the spike',10,'rheobase-y-title');}

// ---------- q ----------
{const g=E('g',{});N(g,'vm-chart',false);
 const sc=lin(0,-100,642,739);
 yAxis(g,730,sc,[0,-20,-40,-60,-80,-100],10,'vm-y-axis');
 E('path',{d:'M730,642 H785',stroke:'#000'},g);
 [746,771].forEach((cx,i)=>{const b=E('rect',{x:cx-8.5,y:642,width:17,height:sc(qVals[i])-642,fill:i?PINK:GREY},g);
  N(b,'bar-'+cCats[i].toLowerCase(),false);
  E('path',{d:`M${cx},642 V639`,stroke:'#000'},g);const t=T(cx,636,cCats[i],9.5,'middle',g);N(t,'x-label',false);
  dots(g,cx,sc,qPts[i],2.6);});
 rotTitle(g,698,690,'Vm (mV)',10,'vm-y-title');}
</script>
</body></html>
